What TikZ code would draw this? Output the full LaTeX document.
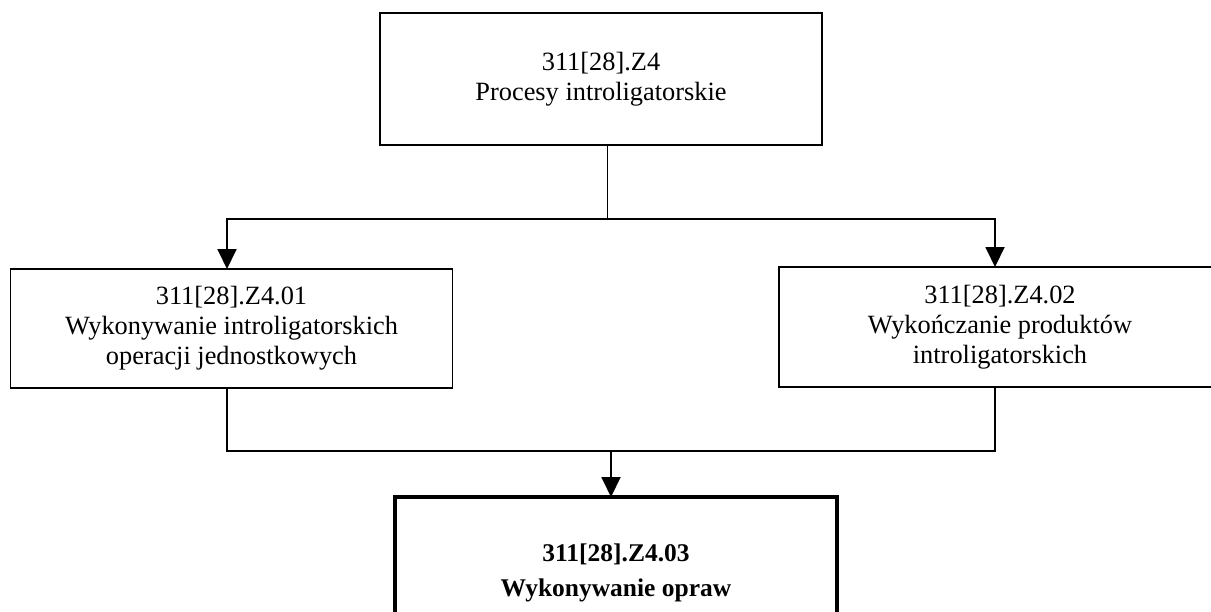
\documentclass[tikz,border=0pt]{standalone}
\usepackage{fontspec}
\setmainfont{Liberation Serif}
\usetikzlibrary{arrows.meta}

\begin{document}
\begin{tikzpicture}[every node/.style={font=\fontsize{15}{17}\selectfont, align=center, inner sep=0pt, outer sep=0pt},
  unit/.style={draw, line width=1.1pt, minimum width=8.84cm},
  >={Triangle[length=4mm, width=3.8mm]}, line width=1.1pt]
	\useasboundingbox (0,0) rectangle (24.22,-12.24);
	\node[unit, minimum height=2.64cm] (modul) at (12.02,-1.58) {311[28].Z4\\Procesy introligatorskie};
	\node[unit, minimum height=2.38cm] (wyk01) at (4.63,-6.57) {311[28].Z4.01\\Wykonywanie introligatorskich\\operacji jednostkowych};
	\node[unit, minimum height=2.40cm] (wyk02) at (20.0,-6.54) {311[28].Z4.02\\Wykończanie produktów\\introligatorskich};
	\node[unit, line width=2pt, anchor=north, inner ysep=0.93cm, text depth=3cm, font=\fontsize{14.5}{20}\selectfont\bfseries] (opraw) at (12.32,-9.94) {311[28].Z4.03\\Wykonywanie opraw};
	\coordinate (split) at (12.15,-4.38);
	\coordinate (join) at (12.22,-9.02);
	\draw (modul.south -| split) -- (split);
	\draw[->] (split) -| ([xshift=-0.09cm]wyk01.north);
	\draw[->] (split) -| ([xshift=-0.1cm]wyk02.north);
	\draw ([xshift=-0.09cm]wyk01.south) |- (join);
	\draw ([xshift=-0.1cm]wyk02.south) |- (join);
	\draw[->] (join) -- (opraw.north -| join);
\end{tikzpicture}
\end{document}
